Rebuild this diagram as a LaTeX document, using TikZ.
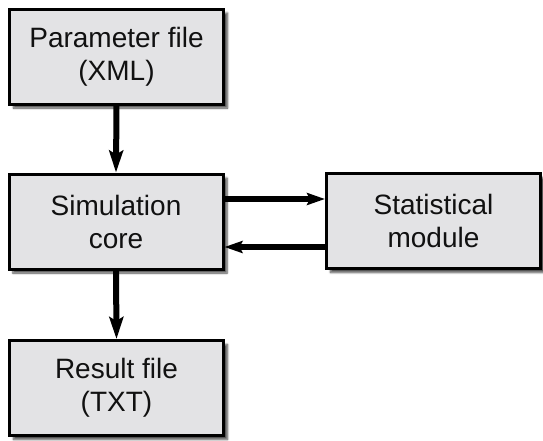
\documentclass[tikz,border=0pt]{standalone}
\usepackage{fontspec}
\setmainfont{Liberation Sans}
\usetikzlibrary{arrows.meta,shadows.blur,calc}
\begin{document}
\begin{tikzpicture}[x=1pt,y=-1pt,
  box/.style={draw=black, line width=3pt, fill=boxgray, minimum width=214pt, minimum height=95pt,
    inner sep=0pt, align=center, text=textdark,
    font=\fontsize{28}{33}\selectfont,
    blur shadow={shadow xshift=4pt, shadow yshift=-4pt, shadow blur steps=6, shadow opacity=70}},
  flow/.style={line width=6pt, -{Stealth[length=22pt,width=14pt,inset=4pt]}},
  hflow/.style={line width=5.5pt, -{Stealth[length=18pt,width=12pt,inset=3pt]}}
]
\definecolor{boxgray}{HTML}{E3E3E5}
\definecolor{textdark}{HTML}{111111}
\useasboundingbox (0,0) rectangle (543,440);
\node[box] (param) at (116.5,56.5) {Parameter file\\(XML)};
\node[box] (sim) at (116,221.5) {Simulation\\core};
\node[box] (stat) at (433.5,221) {Statistical\\module};
\node[box] (res) at (116.5,388) {Result file\\(TXT)};
\coordinate (a1) at ([yshift=22.5pt]sim.east);
\coordinate (a2) at ([yshift=-25.5pt]sim.east);
\draw[flow] (param.south) -- (sim.north);
\draw[flow] (sim.south) -- (res.north);
\draw[hflow] (a1) -- (a1 -| stat.west);
\draw[hflow] (a2 -| stat.west) -- (a2);
\end{tikzpicture}
\end{document}
